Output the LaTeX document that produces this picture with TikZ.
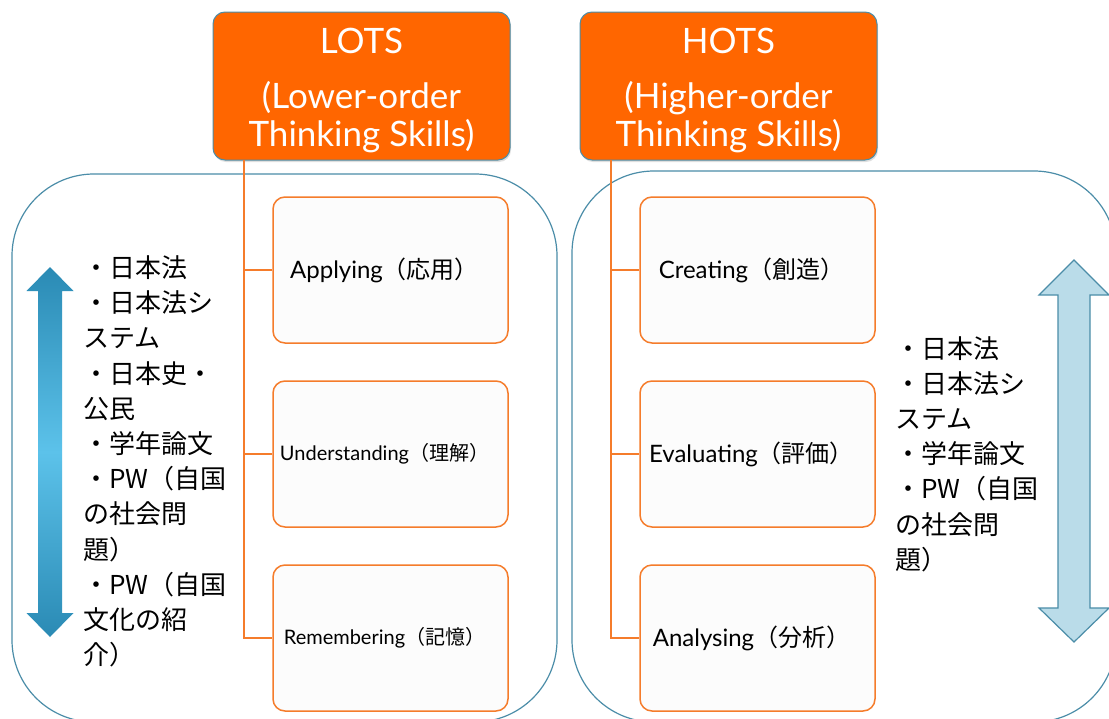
\documentclass[tikz,border=0pt]{standalone}
\usepackage{fontspec}
\setmainfont{Noto Sans CJK JP}
\newfontfamily\latin{Lato}
\usepackage{tikz}
\usetikzlibrary{positioning, shadows}
\definecolor{hdorange}{HTML}{FF6600}
\definecolor{lnorange}{HTML}{F57C2B}
\definecolor{rimblue}{HTML}{4B8DA8}
\definecolor{arrdark}{HTML}{2A8AB4}
\definecolor{arrlight}{HTML}{5CC2EA}
\definecolor{arrpale}{HTML}{BADCE9}

\begin{document}
\begin{tikzpicture}[x=1pt,y=-1pt]
	\tikzstyle{area}=[draw=rimblue,line width=1.2pt,rounded corners=82pt]
	\tikzstyle{headbox}=[draw=rimblue,fill=hdorange,rounded corners=12pt,line width=1pt,
		minimum width=297pt,minimum height=148pt,inner sep=0pt,text=white,align=center,
		font=\latin\fontsize{35}{38}\selectfont,
		drop shadow={opacity=0.25,shadow xshift=1pt,shadow yshift=-2pt}]
	\tikzstyle{skill}=[draw=lnorange,fill=black!1,rounded corners=12pt,line width=1.5pt,
		minimum width=235pt,minimum height=146pt,inner sep=0pt,font=\fontsize{24}{28}\selectfont,
		execute at end node={\hspace{12pt}}]
	\tikzstyle{small}=[font=\fontsize{20}{24}\selectfont]
	\tikzstyle{link}=[draw=lnorange,line width=1.5pt]
	\tikzstyle{list}=[align=left,inner sep=0pt,anchor=west,font=\fontsize{26}{35.2}\selectfont]
	\useasboundingbox (0,0) rectangle (1109,718);
	\clip (0,0) rectangle (1109,718);
	\fill[white] (0,0) rectangle (1109,718);

	% the two rounded areas
	\draw[area] (12,174) rectangle (557,722);
	\draw[area] (572,171) rectangle (1116,722);

	% arrows
	\shade[top color=arrdark,bottom color=arrdark,middle color=arrlight]
		(50,267) -- (73.5,291) -- (62,291) -- (62,613) -- (73.5,613) -- (50,637)
		-- (26.5,613) -- (38,613) -- (38,291) -- (26.5,291) -- cycle;
	\draw[draw=rimblue,fill=arrpale,line width=1.2pt]
		(1074,260) -- (1109,295) -- (1090,295) -- (1090,608) -- (1109,608) -- (1074,642)
		-- (1039,608) -- (1058,608) -- (1058,295) -- (1039,295) -- cycle;

	% headers
	\node[headbox] (lots) at (361.5,86) {\rule{0pt}{34pt}LOTS\\[17pt](Lower-order\\Thinking Skills)};
	\node[headbox] (hots) at (728.5,86) {\rule{0pt}{34pt}HOTS\\[17pt](Higher-order\\Thinking Skills)};

	% skills
	\node[skill] (l1) at (390.5,270) {{\latin Applying}（応用）};
	\node[skill,small] (l2) at (390.5,454) {{\latin Understanding}（理解）};
	\node[skill,small] (l3) at (390.5,638) {{\latin Remembering}（記憶）};
	\node[skill] (h1) at (757.5,270) {{\latin Creating}（創造）};
	\node[skill] (h2) at (757.5,454) {{\latin Evaluating}（評価）};
	\node[skill] (h3) at (757.5,638) {{\latin Analysing}（分析）};

	% connectors
	\coordinate (lj) at (244,160);
	\coordinate (hj) at (611,160);
	\draw[link] (lj) |- (l3.west);
	\draw[link] (l1.west) -- (l1.west -| lj);
	\draw[link] (l2.west) -- (l2.west -| lj);
	\draw[link] (hj) |- (h3.west);
	\draw[link] (h1.west) -- (h1.west -| hj);
	\draw[link] (h2.west) -- (h2.west -| hj);

	% subject lists
	\node[list] (sl) at (83,461.5) {・日本法\\・日本法シ\\ステム\\・日本史・\\公民\\・学年論文\\・PW（自国\\の社会問\\題）\\・PW（自国\\文化の紹\\介）};
	\node[list] (sr) at (895,454) {・日本法\\・日本法シ\\ステム\\・学年論文\\・PW（自国\\の社会問\\題）};
\end{tikzpicture}
\end{document}
